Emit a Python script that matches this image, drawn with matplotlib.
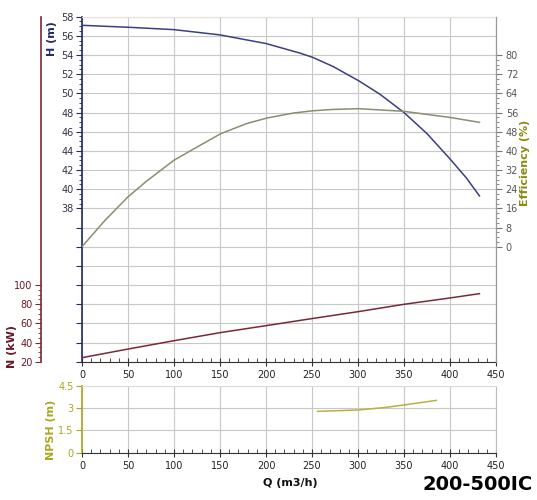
import matplotlib
matplotlib.use("Agg")
import matplotlib.pyplot as plt
from matplotlib.ticker import FixedLocator, FuncFormatter, MultipleLocator

# ---- data ----
q_h = [0, 50, 100, 150, 200, 237, 251, 273, 301, 324, 350, 375, 401, 418, 432]
head = [57.1, 56.9, 56.65, 56.1, 55.2, 54.2, 53.75, 52.8, 51.3, 49.9, 48.0, 45.8, 43.05, 41.15, 39.3]

q_eff = [0, 25, 50, 70, 100, 125, 151, 179, 201, 230, 250, 273, 301, 350, 401, 432]
eff = [0, 11.0, 20.8, 27.3, 36.1, 41.6, 47.2, 51.4, 53.7, 55.8, 56.7, 57.3, 57.6, 56.5, 53.9, 51.9]

q_n = [0, 50, 100, 150, 200, 250, 300, 350, 400, 432]
power = [24.2, 33.2, 41.9, 50.3, 57.6, 65.0, 72.2, 79.9, 86.5, 91.0]

q_npsh = [256, 300, 328, 350, 385]
npsh = [2.79, 2.88, 3.04, 3.22, 3.53]

x_ticks = [0, 50, 100, 150, 200, 250, 300, 350, 400, 450]
h_labels = [38, 40, 42, 44, 46, 48, 50, 52, 54, 56, 58]
eff_labels = [0, 8, 16, 24, 32, 40, 48, 56, 64, 72, 80]
n_labels = [20, 40, 60, 80, 100]
npsh_labels = [0, 1.5, 3, 4.5]
title = "200-500IC"

# ---- styling ----
W, H = 537, 500
fig = plt.figure(figsize=(W / 100, H / 100), dpi=100)
plt.rcParams['font.family'] = ['DejaVu Sans']

c_h = "#3c3f80"
c_h_axis = "#232a66"
c_eff = "#8c8c70"
c_eff_lab = "#8a8a10"
c_n = "#7a2838"
c_n_lab = "#6a1828"
c_npsh = "#b8b040"
c_npsh_lab = "#a8a820"
grid_c = "#c8c8c8"
tick_fs = 7

def fx(px):
    return px / W

def fy(py):
    return 1 - py / H

L, R = 82, 496
T, B = 16.7, 361.7
ax = fig.add_axes([fx(L), fy(B), fx(R) - fx(L), fy(T) - fy(B)])
ax.set_xlim(0, 450)
ax.set_ylim(22, 58)

# grid
ax.xaxis.set_major_locator(FixedLocator(x_ticks))
ax.xaxis.set_minor_locator(MultipleLocator(10))
ax.yaxis.set_major_locator(MultipleLocator(2))
ax.grid(True, color=grid_c, lw=0.8)
ax.set_axisbelow(True)

ax.yaxis.set_major_formatter(FuncFormatter(lambda v, p: f"{int(round(v))}" if v >= 37.9 else ""))
ax.yaxis.set_minor_locator(FixedLocator([38 + 0.5 * i for i in range(41) if (i % 4) != 0]))
ax.tick_params(axis='y', which='major', length=4, color=c_h_axis, labelsize=tick_fs, labelcolor="#333344", pad=2)
ax.tick_params(axis='y', which='minor', length=2, color=c_h_axis)
ax.tick_params(axis='x', which='major', direction='inout', length=6, color="#333333", labelsize=tick_fs, labelcolor="#222222", pad=3)
ax.tick_params(axis='x', which='minor', direction='in', length=3, color="#333333")
ax.spines['left'].set_color(c_h_axis)
ax.spines['left'].set_linewidth(1.2)
ax.spines['bottom'].set_color("#333333")
ax.spines['top'].set_color("#e8e0d8")
ax.spines['right'].set_color("#999999")

ax.plot(q_h, head, color=c_h, lw=1.1, zorder=3)

# efficiency axis (right)
ax_e = ax.twinx()
ax_e.set_ylim(-48, 96)
ax_e.yaxis.set_major_locator(FixedLocator(eff_labels))
ax_e.yaxis.set_minor_locator(FixedLocator([v for v in range(0, 81, 2) if v % 8 != 0]))
ax_e.tick_params(axis='y', which='major', length=4, color="#777777", labelsize=tick_fs, labelcolor="#555555", pad=3)
ax_e.tick_params(axis='y', which='minor', length=2, color="#777777")
ax_e.spines['right'].set_color("#999999")
for s in ['left', 'top', 'bottom']:
    ax_e.spines[s].set_visible(False)
ax_e.plot(q_eff, eff, color=c_eff, lw=1.1, zorder=3)

# power axis (far left)
ax_n = ax.twinx()
ax_n.set_ylim(20, 380)
ax_n.spines['left'].set_position(('axes', (41 - L) / (R - L)))
ax_n.spines['left'].set_visible(True)
ax_n.spines['left'].set_color(c_n)
ax_n.spines['left'].set_linewidth(1.2)
for s in ['right', 'top', 'bottom']:
    ax_n.spines[s].set_visible(False)
ax_n.yaxis.set_label_position('left')
ax_n.yaxis.tick_left()
ax_n.yaxis.set_major_locator(FixedLocator(n_labels))
ax_n.yaxis.set_minor_locator(FixedLocator([v for v in range(20, 101, 5) if v % 20 != 0]))
ax_n.tick_params(axis='y', which='major', length=4, color=c_n, labelsize=tick_fs, labelcolor=c_n_lab, pad=2)
ax_n.tick_params(axis='y', which='minor', length=2, color=c_n)
ax_n.plot(q_n, power, color=c_n, lw=1.1, zorder=3)

# NPSH axes
NT, NB = 386, 452.7
ax2 = fig.add_axes([fx(L), fy(NB), fx(R) - fx(L), fy(NT) - fy(NB)])
ax2.set_xlim(0, 450)
ax2.set_ylim(0, 4.5)
ax2.xaxis.set_major_locator(FixedLocator(x_ticks))
ax2.xaxis.set_minor_locator(MultipleLocator(10))
ax2.yaxis.set_major_locator(FixedLocator(npsh_labels))
ax2.yaxis.set_major_formatter(FuncFormatter(lambda v, p: f"{v:g}"))
ax2.grid(True, color=grid_c, lw=0.8)
ax2.set_axisbelow(True)
ax2.tick_params(axis='y', which='major', length=4, color=c_npsh_lab, labelsize=tick_fs, labelcolor=c_npsh_lab, pad=2)
ax2.tick_params(axis='x', which='major', direction='inout', length=6, color="#333333", labelsize=tick_fs, labelcolor="#222222", pad=3)
ax2.tick_params(axis='x', which='minor', direction='in', length=3, color="#333333")
ax2.spines['left'].set_color(c_npsh_lab)
ax2.spines['left'].set_linewidth(1.2)
ax2.spines['bottom'].set_color("#333333")
ax2.spines['top'].set_color("#dddddd")
ax2.spines['right'].set_color("#bbbbbb")
ax2.plot(q_npsh, npsh, color=c_npsh, lw=1.1, zorder=3)

# labels
fig.text(fx(52), fy(39), "H (m)", rotation=90, ha='center', va='center', fontsize=8, fontweight='bold', color=c_h_axis)
fig.text(fx(525), fy(163), "Efficiency (%)", rotation=90, ha='center', va='center', fontsize=8, fontweight='bold', color=c_eff_lab)
fig.text(fx(12), fy(346), "N (kW)", rotation=90, ha='center', va='center', fontsize=8, fontweight='bold', color=c_n_lab)
fig.text(fx(51), fy(430), "NPSH (m)", rotation=90, ha='center', va='center', fontsize=8, fontweight='bold', color=c_npsh_lab)
fig.text(fx(290), fy(483), "Q (m3/h)", ha='center', va='center', fontsize=8, fontweight='bold', color="#111111")
fig.text(fx(478), fy(485), title, ha='center', va='center', fontsize=14, fontweight='bold', color="#000000")

fig.savefig("out.png", dpi=100, facecolor='white')
